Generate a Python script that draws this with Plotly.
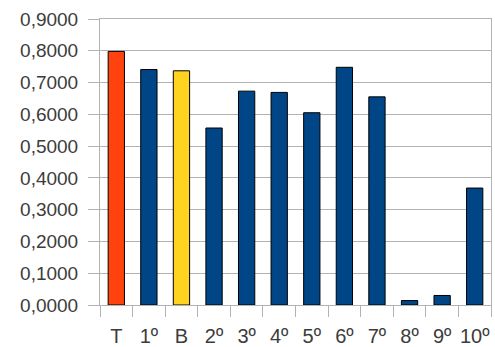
import plotly.graph_objects as go

categories = ["T", "1º", "B", "2º", "3º", "4º", "5º", "6º", "7º", "8º", "9º", "10º"]
values = [0.798, 0.741, 0.737, 0.557, 0.673, 0.669, 0.605, 0.748, 0.655, 0.014, 0.030, 0.368]
bar_colors = ["#FF420E", "#004586", "#FFD320", "#004586", "#004586", "#004586",
              "#004586", "#004586", "#004586", "#004586", "#004586", "#004586"]

grid = "#b3b3b3"
font_family = "Liberation Sans"
text_color = "#3c3c3c"

fig = go.Figure(
    go.Bar(
        x=categories,
        y=values,
        marker=dict(color=bar_colors, line=dict(color="#000000", width=1)),
        width=0.5,
    )
)

fig.update_layout(
    width=495,
    height=347,
    margin=dict(l=100, r=4, t=19, b=42),
    paper_bgcolor="white",
    plot_bgcolor="white",
    separators=",.",
    showlegend=False,
    font=dict(family=font_family, size=20, color=text_color),
)

fig.update_xaxes(
    type="category",
    automargin=False,
    tickson="boundaries",
    ticks="outside",
    ticklen=11,
    tickcolor=grid,
    tickangle=0,
    ticklabelstandoff=13,
    showline=True,
    linecolor=grid,
    linewidth=1,
    mirror=True,
    showgrid=False,
    tickfont=dict(family=font_family, size=20, color=text_color),
)

fig.update_yaxes(
    range=[0, 0.9],
    automargin=False,
    dtick=0.1,
    tick0=0,
    tickformat=".4f",
    ticks="outside",
    ticklen=11,
    tickcolor=grid,
    ticklabelstandoff=6,
    showline=True,
    linecolor=grid,
    linewidth=1,
    mirror=True,
    showgrid=True,
    gridcolor=grid,
    gridwidth=1,
    zeroline=False,
    tickfont=dict(family=font_family, size=19, color=text_color),
)

fig.write_html("out.html")
